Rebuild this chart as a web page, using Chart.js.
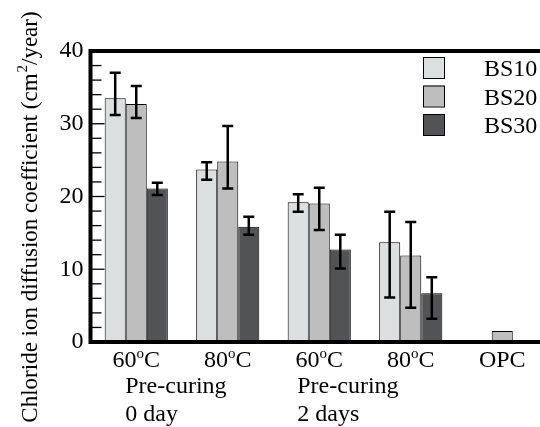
<!DOCTYPE html>
<html lang="en">

<head>
    <meta charset="UTF-8">
    <title>Chloride ion diffusion coefficient</title>
    <style>
        html, body {
            margin: 0;
            background: #ffffff;
            overflow: hidden;
        }

        /* the plot runs a bit past the right edge of the picture */
        #chart-box {
            width: 548px;
            height: 427px;
        }
    </style>
</head>

<body>
    <div id="chart-box">
        <canvas id="barChart"></canvas>
    </div>

    <script src="https://cdn.jsdelivr.net/npm/chart.js"></script>
    <script>
        // data
        const categories = ['60ºC', '80ºC', '60ºC', '80ºC', 'OPC'];
        const seriesNames = ['BS10', 'BS20', 'BS30'];
        const bs10 = [33.5, 23.7, 19.2, 13.7, null];
        const bs20 = [32.7, 24.8, 19.05, 11.9, 1.5];
        const bs30 = [21.1, 15.85, 12.7, 6.7, null];
        // error bar ends (low / high)
        const bs10Lo = [31.2, 22.3, 17.9, 6.1, null];
        const bs10Hi = [37.0, 24.7, 20.3, 17.9, null];
        const bs20Lo = [30.8, 21.1, 15.4, 4.7, null];
        const bs20Hi = [35.2, 29.7, 21.2, 16.5, null];
        const bs30Lo = [20.2, 14.75, 10.1, 3.2, null];
        const bs30Hi = [21.9, 17.2, 14.75, 8.9, null];
        const yTicks = [0, 10, 20, 30, 40];
        const groupLabels = [['Pre-curing', '0 day'], ['Pre-curing', '2 days']];
        const groupStart = [0, 2];

        const colors = ['#dcdfe0', '#bebebe', '#525354'];
        const errLo = [bs10Lo, bs20Lo, bs30Lo];
        const errHi = [bs10Hi, bs20Hi, bs30Hi];
        const serif = '"Liberation Serif", serif';

        // error bars
        const errorBars = {
            id: 'errorBars',
            afterDatasetsDraw(chart) {
                const ctx = chart.ctx;
                const y = chart.scales.y;
                ctx.save();
                ctx.strokeStyle = '#000';
                ctx.lineWidth = 2.5;
                chart.data.datasets.forEach((ds, i) => {
                    const meta = chart.getDatasetMeta(i);
                    meta.data.forEach((bar, j) => {
                        if (errLo[i][j] == null) return;
                        const x = bar.x;
                        const yl = y.getPixelForValue(errLo[i][j]);
                        const yh = y.getPixelForValue(errHi[i][j]);
                        ctx.beginPath();
                        ctx.moveTo(x, yl); ctx.lineTo(x, yh);
                        ctx.moveTo(x - 5.5, yl); ctx.lineTo(x + 5.5, yl);
                        ctx.moveTo(x - 5.5, yh); ctx.lineTo(x + 5.5, yh);
                        ctx.stroke();
                    });
                });
                ctx.restore();
            }
        };

        // frame, inner ticks, x labels, legend and y title
        const decorations = {
            id: 'decorations',
            afterDraw(chart) {
                const ctx = chart.ctx;
                const a = chart.chartArea;
                const x = chart.scales.x;
                const y = chart.scales.y;
                ctx.save();
                ctx.fillStyle = '#000';
                ctx.strokeStyle = '#000';

                // inner ticks
                ctx.lineWidth = 1.3;
                for (let v = 0; v <= 40; v += 2) {
                    const py = y.getPixelForValue(v);
                    const len = v % 10 === 0 ? 12 : 9;
                    ctx.beginPath();
                    ctx.moveTo(a.left, py);
                    ctx.lineTo(a.left + 2 + len, py);
                    ctx.stroke();
                }

                // frame
                ctx.lineWidth = 4;
                ctx.beginPath();
                ctx.moveTo(a.left, a.top - 2);
                ctx.lineTo(a.left, a.bottom + 2);
                ctx.moveTo(a.left - 2, a.top);
                ctx.lineTo(chart.width, a.top);
                ctx.moveTo(a.left - 2, a.bottom);
                ctx.lineTo(chart.width, a.bottom);
                ctx.stroke();

                // category labels with superscript o
                ctx.textBaseline = 'alphabetic';
                ctx.textAlign = 'left';
                const big = '24px ' + serif;
                const small = '15px ' + serif;
                categories.forEach((c, i) => {
                    const cx = x.getPixelForValue(i);
                    const parts = c.split('º');
                    ctx.font = big;
                    let w = ctx.measureText(parts.join('')).width;
                    let wo = 0;
                    if (parts.length > 1) {
                        ctx.font = small;
                        wo = ctx.measureText('o').width;
                    }
                    let px = cx - (w + wo) / 2;
                    ctx.font = big;
                    ctx.fillText(parts[0], px, 367);
                    px += ctx.measureText(parts[0]).width;
                    if (parts.length > 1) {
                        ctx.font = small;
                        ctx.fillText('o', px, 358);
                        px += wo;
                        ctx.font = big;
                        ctx.fillText(parts[1], px, 367);
                    }
                });

                // pre-curing groups
                const offsets = [-11, -22];
                ctx.font = big;
                groupLabels.forEach((g, i) => {
                    const gx = x.getPixelForValue(groupStart[i]) + offsets[i];
                    ctx.fillText(g[0], gx, 393);
                    ctx.fillText(g[1], gx, 421);
                });

                // legend
                chart.data.datasets.forEach((ds, i) => {
                    const top = 57 + i * 28.5;
                    ctx.fillStyle = ds.backgroundColor;
                    ctx.fillRect(423, top, 21, 21);
                    ctx.lineWidth = 1;
                    ctx.strokeRect(423.5, top + 0.5, 21, 21);
                    ctx.fillStyle = '#000';
                    ctx.font = big;
                    ctx.fillText(ds.label, 484, top + 19);
                });

                // y title
                ctx.translate(37, 217);
                ctx.rotate(-Math.PI / 2);
                const t1 = 'Chloride ion diffusion coefficient (cm';
                const t2 = '/year)';
                const tf = '23px ' + serif;
                const sf = '15px ' + serif;
                ctx.font = tf;
                const w1 = ctx.measureText(t1).width;
                const w3 = ctx.measureText(t2).width;
                ctx.font = sf;
                const w2 = ctx.measureText('2').width + 1;
                let sx = -(w1 + w2 + w3) / 2;
                ctx.font = tf;
                ctx.fillText(t1, sx, 0);
                sx += w1;
                ctx.font = sf;
                ctx.fillText('2', sx + 1, -10);
                sx += w2;
                ctx.font = tf;
                ctx.fillText(t2, sx, 0);
                ctx.restore();
            }
        };

        function drawChart() {
            const values = [bs10, bs20, bs30];
            const ctx = document.getElementById('barChart').getContext('2d');
            new Chart(ctx, {
                type: 'bar',
                data: {
                    labels: categories,
                    datasets: seriesNames.map((name, i) => ({
                        label: name,
                        data: values[i],
                        backgroundColor: colors[i],
                        borderColor: '#000',
                        borderWidth: 1,
                        borderSkipped: false,
                        barPercentage: 1,
                        categoryPercentage: 0.69
                    }))
                },
                options: {
                    responsive: true,
                    maintainAspectRatio: false,
                    animation: false,
                    layout: {
                        padding: { top: 51, left: 0, right: 0, bottom: 0 }
                    },
                    plugins: {
                        legend: { display: false },
                        tooltip: { enabled: false }
                    },
                    scales: {
                        x: {
                            grid: { display: false },
                            border: { display: false },
                            ticks: { display: false },
                            afterFit(scale) { scale.height = 85; }
                        },
                        y: {
                            min: 0,
                            max: 40,
                            afterBuildTicks(scale) {
                                scale.ticks = yTicks.map(v => ({ value: v }));
                            },
                            grid: { drawOnChartArea: false, drawTicks: false },
                            border: { display: false },
                            ticks: {
                                color: '#000',
                                padding: 7,
                                font: { family: serif, size: 24 }
                            },
                            afterFit(scale) { scale.width = 90.5; }
                        }
                    }
                },
                plugins: [errorBars, decorations]
            });
        }

        document.fonts.load('24px "Liberation Serif"').then(drawChart, drawChart);
    </script>
</body>

</html>
